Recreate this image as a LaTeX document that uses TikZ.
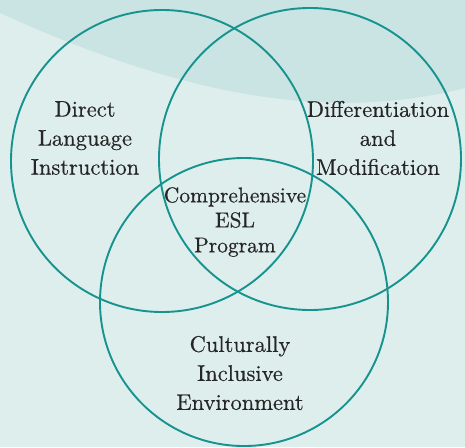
\documentclass[tikz,border=0pt]{standalone}
\usepackage{fontspec}
\usepackage{tikz}

\newfontfamily\vennfont{lmroman10-regular.otf}[FakeBold=0.5]

\definecolor{bgmint}{HTML}{DEEEEC}
\definecolor{wavemint}{HTML}{C9E4E3}
\definecolor{ringteal}{HTML}{16938F}
\definecolor{labelgray}{HTML}{262626}

\begin{document}
\begin{tikzpicture}[x=1pt,y=-1pt,
	ring/.style={draw=ringteal,line width=1.9pt},
	setlabel/.style={text=labelgray,align=center,font=\vennfont\fontsize{22.5}{29}\selectfont},
	corelabel/.style={text=labelgray,align=center,font=\vennfont\fontsize{21.5}{25}\selectfont}]
	\useasboundingbox (0,0) rectangle (465,447);
	
	%BACKGROUND
	\fill[bgmint] (0,0) rectangle (465,447);
	\fill[wavemint] (0,0)--(0,13) .. controls (170,90) and (320,125) .. (465,88)--(465,0)--cycle;
	
	%CIRCLES
	\draw[ring] (162,161) circle (151);
	\draw[ring] (310,159) circle (151);
	\draw[ring] (244,302) circle (144);
	
	%LABELS
	\node[setlabel] (direct) at (85,138) {Direct\\Language\\Instruction};
	\node[setlabel] (diff) at (378,138) {Differentiation\\and\\Modification};
	\node[setlabel] (culture) at (240,373) {Culturally\\Inclusive\\Environment};
	\node[corelabel] (core) at (235,222) {Comprehensive\\ESL\\Program};
	
	%\draw[help lines,step=20] (0,0) grid (465,447);
\end{tikzpicture}
\end{document}
